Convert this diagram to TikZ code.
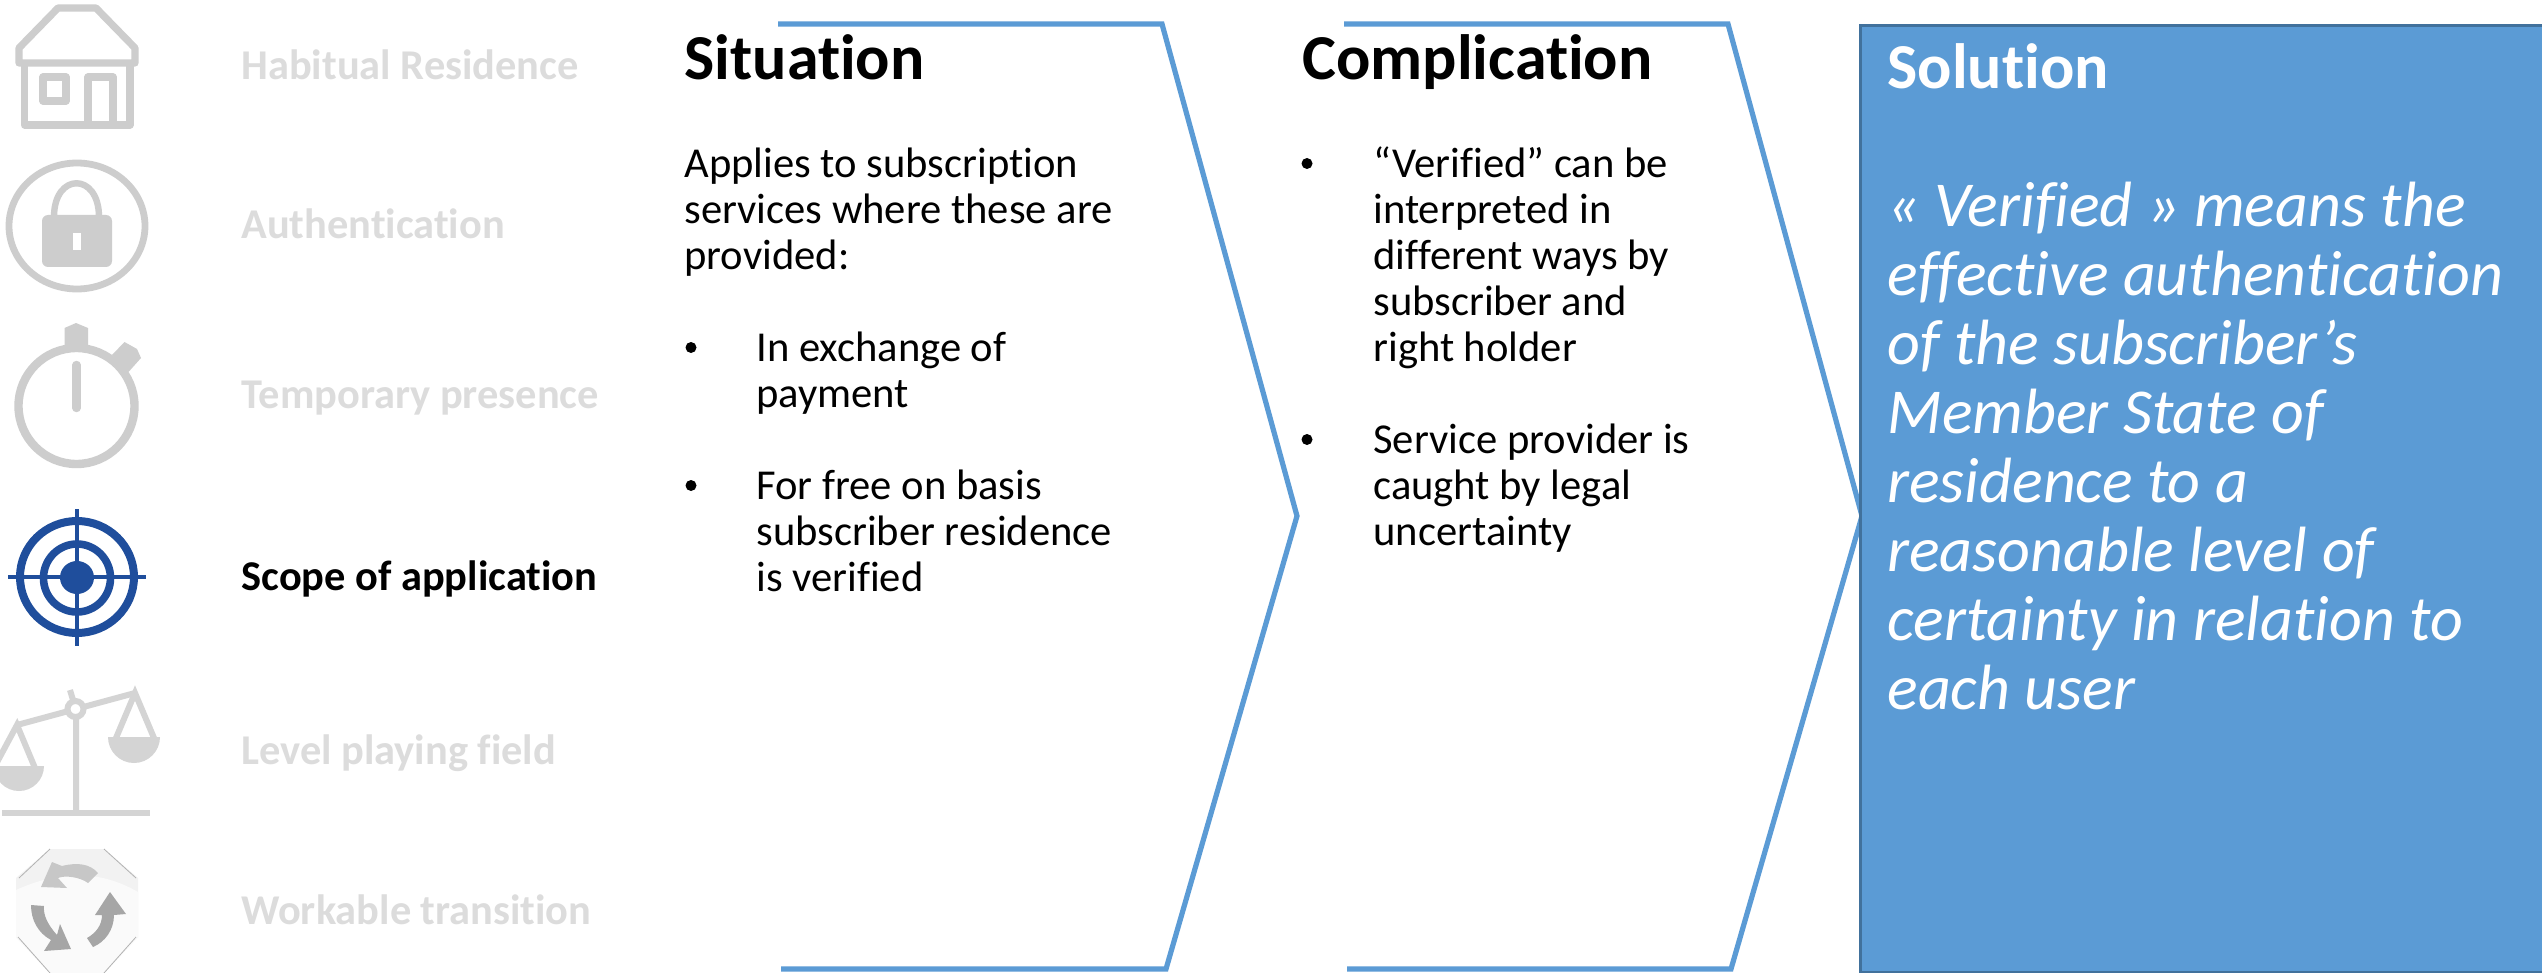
\documentclass[tikz,border=0pt]{standalone}
\usepackage{fontspec}
\setmainfont[Ligatures=NoCommon]{Carlito}
\definecolor{iconc}{HTML}{CDCDCD}
\definecolor{labelc}{HTML}{DCDCDC}
\definecolor{chev}{HTML}{5B9BD5}
\definecolor{chevd}{HTML}{41719C}
\definecolor{targetc}{HTML}{1F4E9C}
\tikzset{
  sidelabel/.style={anchor=base west,inner sep=0pt,font=\bfseries\fontsize{21.2}{24}\selectfont,text=labelc},
  heading/.style={anchor=base west,inner sep=0pt,font=\bfseries\fontsize{32}{36}\selectfont},
  bodytext/.style={anchor=north west,inner sep=0pt,align=left,font=\fontsize{21.3}{23}\selectfont},
  dotbullet/.style={circle,fill=black,inner sep=0pt,minimum size=5.5pt},
  chevron/.style={draw=chev,line width=2.6pt,line join=miter},
  iconline/.style={draw=iconc,line width=3.6pt,line join=round},
}
\begin{document}
\begin{tikzpicture}[x=0.5pt,y=-0.5pt]
\clip (0,0) rectangle (2542,973);
\useasboundingbox (0,0) rectangle (2542,973);
\fill[white] (0,0) rectangle (2542,973);
% chevrons
\draw[chevron] (778,24) -- (1162,24) -- (1297,516) -- (1166,969) -- (781,969);
\draw[chevron] (1344,24) -- (1728,24) -- (1862,516) -- (1731,969) -- (1347,969);
% solution box
\node[draw=chevd,fill=chev,line width=1.5pt,anchor=north west,minimum width=350pt,minimum height=473.5pt,inner sep=0pt,outer sep=0pt] (solbox) at (1860.5,25.5) {};
% house
\draw[iconline] (24.5,65) -- (24.5,125) -- (130,125) -- (130,65);
\draw[iconline] (58,8) -- (96,8) -- (135,48) -- (135,63) -- (19,63) -- (19,48) -- cycle;
\draw[iconline] (43,77) rectangle (66,101);
\draw[iconline] (88,123) -- (88,77) -- (113,77) -- (113,123);
% lock
\draw[draw=iconc,line width=3.4pt] (77,226) ellipse [x radius=68,y radius=63];
\fill[iconc,rounded corners=3pt] (42,267) -- (42,215) -- (112,215) -- (112,267) -- cycle;
\draw[iconc,line width=3.2pt] (54,217) .. controls (54,172) and (99,172) .. (99,217);
\fill[white] (73,233) rectangle (81,250);
% stopwatch
\fill[iconc] (64.5,350) -- (64.5,328) -- (76,323) -- (88,328) -- (88,350) -- cycle;
\fill[iconc] (112,355) -- (124.5,342) -- (137,349) -- (141,358) -- (128.5,372) -- cycle;
\draw[draw=iconc,line width=4.2pt,fill=white] (76.5,406) ellipse [x radius=58,y radius=58];
\draw[iconc,line width=4.2pt,line cap=round] (76.5,365) -- (76.5,408);
% target
\draw[targetc,line width=4pt] (77,577) ellipse [x radius=57,y radius=56];
\draw[targetc,line width=3.8pt] (77,578) ellipse [x radius=33.5,y radius=34];
\fill[targetc] (77,577.5) ellipse [x radius=17,y radius=16.5];
\draw[targetc,line width=2pt] (8,577) -- (146,577) (77,509) -- (77,646);
% scale
\draw[iconc!85!white,line width=3pt] (17,725) -- (135,693) (70,690) -- (73,700) (76,715) -- (76,812);
\draw[iconc!85!white,line width=3pt] (-5,766) -- (17,725) -- (35,768) (116,738) -- (135,693) -- (154,738);
\fill[iconc!85!white] (2,810) rectangle (150,816);
\fill[iconc!85!white] (-6,766) arc[start angle=180,end angle=0,radius=25] -- cycle;
\fill[iconc!85!white] (108,737) arc[start angle=180,end angle=0,radius=26] -- cycle;
\draw[iconc!85!white,fill=white,line width=3pt] (75.5,709) circle [radius=8];
% octagon
\fill[black!5] (50,849) -- (104,849) -- (138,878) -- (138,937) -- (104,973) -- (50,973) -- (16,937) -- (16,878) -- cycle;
\fill[black!2] (16,890) .. controls (60,870) and (100,870) .. (138,892) -- (138,937) -- (104,973) -- (50,973) -- (16,937) -- cycle;
\draw[black!30,line width=.4pt] (19,878) -- (50,849) (104,849) -- (136,878) (18,937) -- (50,973) (136,937) -- (104,973);
\fill[black!22] (52,862) -- (41,887) -- (67,888) -- (58,878) .. controls (65,875) and (80,877) .. (88,883) -- (98,873) .. controls (90,864) and (78,862) .. (62,866) -- cycle;
\fill[black!35] (110,892) -- (95,915) -- (102,915) .. controls (102,925) and (96,933) .. (87,938) -- (93,947) .. controls (105,942) and (114,930) .. (114,915) -- (126,914) -- cycle;
\fill[black!35] (31,905) -- (44,906) .. controls (43,915) and (48,925) .. (57,935) -- (60,924) -- (71,949) -- (44,951) -- (51,940) .. controls (38,933) and (31,920) .. (31,905) -- cycle;
% side labels
\node[sidelabel] (l1) at (241,79.5) {Habitual Residence};
\node[sidelabel] (l2) at (241,238.5) {Authentication};
\node[sidelabel] (l3) at (241,408.5) {Temporary presence};
\node[sidelabel,text=black] (l4) at (241,590.5) {Scope of application};
\node[sidelabel] (l5) at (241,764.5) {Level playing field};
\node[sidelabel] (l6) at (241,924.5) {Workable transition};
% situation
\node[heading] (sit) at (684,79.5) {Situation};
\node[bodytext] (sit1) at (684,145.3) {\strut Applies to subscription\\services where these are\\provided:};
\node[dotbullet] (sb1) at (691,347.5) {};
\node[bodytext] (sit2) at (756,329.3) {\strut In exchange of\\payment};
\node[dotbullet] (sb2) at (691,485.5) {};
\node[bodytext] (sit3) at (756,467.3) {\strut For free on basis\\subscriber residence\\is verified};
% complication
\node[heading] (comp) at (1302,79.5) {Complication};
\node[dotbullet] (cb1) at (1307,163.5) {};
\node[bodytext] (comp1) at (1373,145.3) {\strut “Verified” can be\\interpreted in\\different ways by\\subscriber and\\right holder};
\node[dotbullet] (cb2) at (1307,439.5) {};
\node[bodytext] (comp2) at (1373,421.3) {\strut Service provider is\\caught by legal\\uncertainty};
% solution
\node[heading,text=white] (sol) at (1887,88.5) {Solution};
\node[bodytext,text=white,font=\itshape\fontsize{32}{34.5}\selectfont] (solt) at (1887,178.2) {\strut « Verified » means the\\effective authentication\\of the subscriber’s\\Member State of\\residence to a\\reasonable level of\\certainty in relation to\\each user};
\end{tikzpicture}
\end{document}
